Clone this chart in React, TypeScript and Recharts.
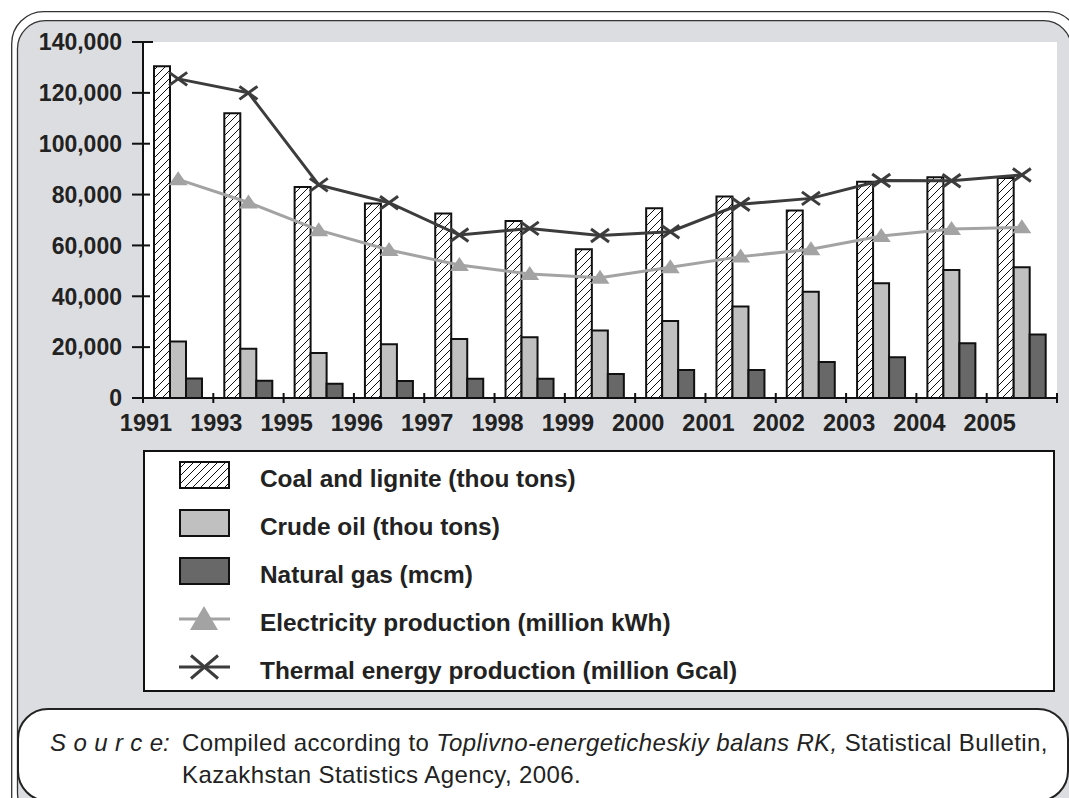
import React from "react";
import { Bar, CartesianGrid, ComposedChart, Line, XAxis, YAxis } from "recharts";

const years = ["1991", "1993", "1995", "1996", "1997", "1998", "1999", "2000", "2001", "2002", "2003", "2004", "2005"];
const coal = [130500, 112000, 83000, 76500, 72600, 69600, 58500, 74600, 79200, 73700, 85000, 86800, 86500];
const crudeOil = [22200, 19400, 17700, 21100, 23200, 23900, 26500, 30300, 36000, 41800, 45100, 50300, 51400];
const naturalGas = [7700, 6800, 5600, 6700, 7600, 7600, 9400, 11000, 11000, 14200, 16000, 21500, 25000];
const electricity = [86000, 76900, 66000, 58200, 52300, 48800, 47300, 51400, 55600, 58500, 63700, 66500, 67100];
const thermal = [125500, 120000, 83800, 76800, 64100, 66700, 63900, 65400, 76200, 78500, 85500, 85400, 87700];
const yTicks = [0, 20000, 40000, 60000, 80000, 100000, 120000, 140000];

const legendItems = [
  "Coal and lignite (thou tons)",
  "Crude oil (thou tons)",
  "Natural gas (mcm)",
  "Electricity production (million kWh)",
  "Thermal energy production (million Gcal)",
];

const data = years.map((year, i) => ({
  year,
  coal: coal[i],
  crudeOil: crudeOil[i],
  naturalGas: naturalGas[i],
  electricity: electricity[i],
  thermal: thermal[i],
}));

const FONT = "'Liberation Sans', Arial, Helvetica, sans-serif";
const INK = "#222";
const GRAY_BG = "#dcdde0";
const LIGHT = "#c0c0c0";
const DARK = "#686868";
const ELEC = "#a3a3a3";
const THERM = "#3c3c3c";

function YTick({ x, y, payload }: any) {
  // x = axis - tickSize(11) - tickMargin(10)
  const axisX = x + 21;
  return (
    <g>
      <line x1={axisX - 11} x2={axisX + (payload.value === 140000 ? 10 : 7)} y1={y} y2={y} stroke="#111" strokeWidth={2} />
      <text x={x} y={y} dy="0.36em" textAnchor="end" fontFamily={FONT} fontWeight="bold" fontSize={23} fill={INK}>
        {Number(payload.value).toLocaleString("en-US")}
      </text>
    </g>
  );
}

function XTick({ x, y, payload, index }: any) {
  const off = payload.offset || 914 / years.length / 2;
  const left = x - off;
  const axisY = y - 16;
  return (
    <g>
      <line x1={left} x2={left} y1={axisY - 5} y2={axisY + 5} stroke="#111" strokeWidth={2} />
      {index === years.length - 1 && (
        <line x1={x + off} x2={x + off} y1={axisY - 5} y2={axisY + 5} stroke="#111" strokeWidth={2} />
      )}
      <text x={left + 3} y={y} dy="0.71em" textAnchor="middle" fontFamily={FONT} fontWeight="bold" fontSize={23.5} fill={INK}>
        {payload.value}
      </text>
    </g>
  );
}

function TriangleDot({ cx, cy, index }: any) {
  if (cx == null || cy == null) return <g key={index} />;
  return <polygon key={index} points={`${cx},${cy - 8} ${cx + 9.5},${cy + 6} ${cx - 9.5},${cy + 6}`} fill={ELEC} />;
}

function CrossDot({ cx, cy, index }: any) {
  if (cx == null || cy == null) return <g key={index} />;
  return (
    <g key={index} stroke={THERM} strokeWidth={3}>
      <line x1={cx - 9} y1={cy - 6.5} x2={cx + 9} y2={cy + 6.5} />
      <line x1={cx - 9} y1={cy + 6.5} x2={cx + 9} y2={cy - 6.5} />
    </g>
  );
}

function HatchDef({ id }: { id: string }) {
  return (
    <pattern id={id} patternUnits="userSpaceOnUse" width={8} height={8}>
      <rect width={8} height={8} fill="#fff" />
      <path d="M0,8 L8,0 M-2,2 L2,-2 M6,10 L10,6" stroke="#111" strokeWidth={1} />
    </pattern>
  );
}

function LegendSymbol({ i, cy }: { i: number; cy: number }) {
  const x0 = 180;
  if (i < 3) {
    const fill = i === 0 ? "url(#hatchLegend)" : i === 1 ? LIGHT : DARK;
    return <rect x={x0} y={cy - 13} width={49} height={26} fill={fill} stroke="#111" strokeWidth={2} />;
  }
  if (i === 3) {
    return (
      <g>
        <line x1={x0 - 1} x2={x0 + 50} y1={cy} y2={cy} stroke={ELEC} strokeWidth={3} />
        <polygon points={`${x0 + 24},${cy - 13} ${x0 + 38},${cy + 11} ${x0 + 10},${cy + 11}`} fill={ELEC} />
      </g>
    );
  }
  return (
    <g stroke={THERM} strokeWidth={3}>
      <line x1={x0 - 1} x2={x0 + 50} y1={cy} y2={cy} />
      <line x1={x0 + 11} y1={cy - 11.5} x2={x0 + 38} y2={cy + 11.5} />
      <line x1={x0 + 11} y1={cy + 11.5} x2={x0 + 38} y2={cy - 11.5} />
    </g>
  );
}

export default function App() {
  return (
    <div style={{ position: "absolute", left: 0, top: 0, width: 1069, height: 798, overflow: "hidden", background: "#fff" }}>
      <svg width={1069} height={798} style={{ position: "absolute", left: 0, top: 0 }}>
        <rect x={11.7} y={11.7} width={1068} height={820} rx={32} fill="#fff" stroke="#333" strokeWidth={1.3} />
        <rect x={17.5} y={20.7} width={1054} height={800} rx={28} fill={GRAY_BG} stroke="#333" strokeWidth={1.3} />
      </svg>

      <div style={{ position: "absolute", left: 0, top: 0 }}>
        <ComposedChart width={1069} height={440} data={data} margin={{ top: 42, right: 12, bottom: 12, left: 0 }} barGap={0}>
          <defs>
            <HatchDef id="hatchBar" />
          </defs>
          <CartesianGrid horizontal={false} vertical={false} fill="#fff" />
          <Bar dataKey="coal" fill="url(#hatchBar)" stroke="#111" strokeWidth={2} barSize={16} isAnimationActive={false} />
          <Bar dataKey="crudeOil" fill={LIGHT} stroke="#111" strokeWidth={2} barSize={16} isAnimationActive={false} />
          <Bar dataKey="naturalGas" fill={DARK} stroke="#111" strokeWidth={2} barSize={16} isAnimationActive={false} />
          <Line type="linear" dataKey="electricity" stroke={ELEC} strokeWidth={3} dot={TriangleDot} activeDot={false} isAnimationActive={false} />
          <Line type="linear" dataKey="thermal" stroke={THERM} strokeWidth={3} dot={CrossDot} activeDot={false} isAnimationActive={false} />
          <XAxis
            dataKey="year"
            height={30}
            interval={0}
            tickSize={5}
            tickMargin={11}
            tickLine={false}
            axisLine={{ stroke: "#111", strokeWidth: 2 }}
            tick={<XTick />}
          />
          <XAxis xAxisId="top" dataKey="year" orientation="top" height={0} tick={false} tickLine={false} axisLine={{ stroke: "#888", strokeWidth: 2 }} />
          <YAxis
            width={143}
            domain={[0, 140000]}
            ticks={yTicks}
            interval={0}
            tickSize={11}
            tickMargin={10}
            tickLine={false}
            axisLine={{ stroke: "#111", strokeWidth: 2 }}
            tick={<YTick />}
          />
          <YAxis yAxisId="r" orientation="right" width={0} domain={[0, 1]} tick={false} tickLine={false} axisLine={{ stroke: "#888", strokeWidth: 2 }} />
        </ComposedChart>
      </div>

      <svg width={1069} height={798} style={{ position: "absolute", left: 0, top: 0 }}>
        <defs>
          <HatchDef id="hatchLegend" />
        </defs>
        <rect x={144} y={451} width={910} height={240} fill="#fff" stroke="#111" strokeWidth={2} />
        {legendItems.map((label, i) => {
          const cy = 475 + i * 48;
          return (
            <g key={label}>
              <LegendSymbol i={i} cy={cy} />
              <text x={260} y={cy + 11.5} fontFamily={FONT} fontWeight="bold" fontSize={24.4} fill={INK}>
                {label}
              </text>
            </g>
          );
        })}

        <rect x={18} y={709} width={1050} height={92} rx={30} fill="#fff" stroke="#222" strokeWidth={2} />
        <text x={50} y={751} fontFamily={FONT} fontSize={24} fontStyle="italic" fill={INK}>
          <tspan letterSpacing={7.4}>Sourc</tspan>
          <tspan>e:</tspan>
        </text>
        <text x={182} y={751} fontFamily={FONT} fontSize={24} letterSpacing={0.4} fill={INK}>
          Compiled according to <tspan fontStyle="italic">Toplivno-energeticheskiy balans RK,</tspan> Statistical Bulletin,
        </text>
        <text x={182} y={783} fontFamily={FONT} fontSize={24} letterSpacing={0.4} fill={INK}>
          Kazakhstan Statistics Agency, 2006.
        </text>
      </svg>
    </div>
  );
}
